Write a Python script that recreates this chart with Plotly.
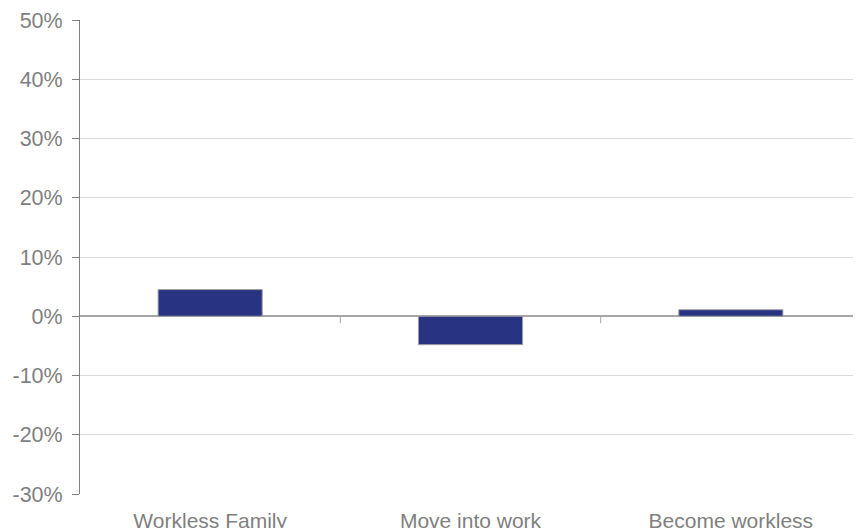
import plotly.graph_objects as go

categories = ["Workless Family", "Move into work", "Become workless"]
values = [4.5, -4.8, 1.1]
y_ticks = [-30, -20, -10, 0, 10, 20, 30, 40, 50]
y_tick_labels = [f"{v}%" for v in y_ticks]

fig = go.Figure()
fig.add_trace(go.Bar(
    x=categories, y=values,
    marker=dict(color="#283482", line=dict(color="#A0A0A0", width=1)),
    width=0.4,
))

shapes = []
for i in range(len(categories) - 1):
    shapes.append(dict(
        type="line", xref="x", yref="y", x0=i + 0.5, x1=i + 0.5,
        ysizemode="pixel", yanchor=0, y0=0, y1=-7,
        line=dict(color="#A6A6A6", width=1),
    ))

# page body has an 8px default margin; compensate
fig.update_layout(
    width=853, height=520,
    margin=dict(l=72, r=0, t=12, b=34),
    paper_bgcolor="white", plot_bgcolor="white",
    showlegend=False,
    font=dict(family="Liberation Sans, Arial, sans-serif", size=21, color="#7F7F7F"),
    shapes=shapes,
    xaxis=dict(
        showgrid=False, showline=False, zeroline=False,
        ticks="", ticklabelstandoff=12, automargin=False,
        tickfont=dict(size=21, color="#7F7F7F"),
    ),
    yaxis=dict(
        range=[-30, 50], tickvals=y_ticks, ticktext=y_tick_labels,
        showgrid=True, gridcolor="#D9D9D9", gridwidth=1,
        zeroline=True, zerolinecolor="#A6A6A6", zerolinewidth=2,
        showline=True, linecolor="#808080", linewidth=1,
        ticks="outside", ticklen=7, tickcolor="#808080",
        ticklabelstandoff=5, ticklabeloverflow="allow", automargin=False,
        tickfont=dict(size=21.5, color="#7F7F7F"),
    ),
)

fig.write_html("out.html")
